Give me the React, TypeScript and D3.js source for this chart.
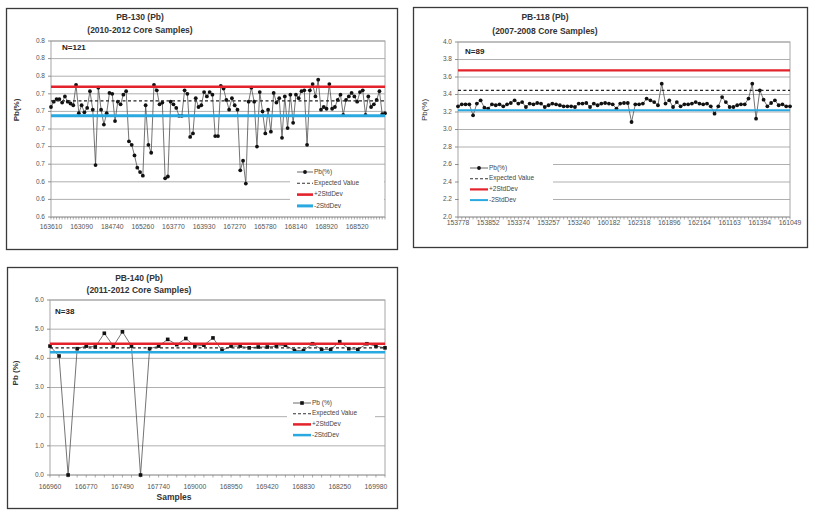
import React from "react";
import * as d3 from "d3";

// ---------- DATA ----------
const pb130Values = [
  0.725, 0.731, 0.734, 0.734, 0.730, 0.737, 0.731, 0.729, 0.727, 0.750,
  0.718, 0.727, 0.719, 0.724, 0.743, 0.722, 0.659, 0.747, 0.722, 0.705,
  0.718, 0.741, 0.740, 0.709, 0.731, 0.728, 0.739, 0.743, 0.686, 0.682,
  0.670, 0.656, 0.651, 0.647, 0.727, 0.682, 0.673, 0.750, 0.744, 0.728,
  0.730, 0.644, 0.646, 0.731, 0.728, 0.724, 0.715, 0.715, 0.744, 0.740,
  0.691, 0.695, 0.735, 0.725,
  0.727, 0.742, 0.737, 0.742, 0.739, 0.692, 0.692, 0.749, 0.746, 0.733,
  0.722, 0.735, 0.727, 0.722, 0.653, 0.664, 0.638, 0.731, 0.747, 0.731,
  0.680, 0.742, 0.720, 0.695, 0.722, 0.697, 0.741, 0.730, 0.735, 0.690,
  0.737, 0.701, 0.739, 0.707, 0.739, 0.735, 0.743, 0.744, 0.682, 0.744,
  0.751, 0.737, 0.756, 0.722, 0.725, 0.723, 0.751, 0.723, 0.725, 0.733,
  0.739, 0.716, 0.733, 0.737, 0.741, 0.737, 0.731, 0.742, 0.744, 0.716,
  0.737, 0.725, 0.728, 0.733, 0.743, 0.717, 0.718,
];
const pb130XLabels = ["163610", "163090", "184740", "165260", "163770", "163930", "167270", "165780", "168140", "168920", "168520"];
const pb130YTicks = [0.6, 0.62, 0.64, 0.66, 0.68, 0.7, 0.72, 0.74, 0.76, 0.78, 0.8];
const pb130YLabels = ["0.6", "0.6", "0.6", "0.7", "0.7", "0.7", "0.7", "0.7", "0.8", "0.8", "0.8"];
const pb130Stats = [0.732, 0.748, 0.715]; // expected, +2SD, -2SD

const pb118Values = [
  3.265, 3.288, 3.288, 3.288, 3.162, 3.296, 3.333, 3.25, 3.239, 3.288,
  3.277, 3.288, 3.265, 3.288, 3.303, 3.333, 3.296, 3.314, 3.257, 3.296,
  3.288, 3.303, 3.296, 3.257, 3.277, 3.296, 3.288, 3.277, 3.265, 3.265,
  3.265, 3.257, 3.296, 3.296, 3.303, 3.257, 3.296, 3.277, 3.296, 3.303,
  3.296, 3.288, 3.239, 3.296, 3.303, 3.303, 3.086, 3.288, 3.288, 3.296,
  3.353, 3.333, 3.314, 3.277, 3.524, 3.296, 3.333, 3.257, 3.314, 3.265,
  3.288, 3.288, 3.296, 3.314, 3.296, 3.288, 3.296, 3.265, 3.181, 3.265,
  3.371, 3.314, 3.257, 3.257, 3.277, 3.288, 3.288, 3.353, 3.524, 3.124,
  3.448, 3.341, 3.265, 3.303, 3.333, 3.277, 3.288, 3.265, 3.265,
];
const pb118XLabels = ["153778", "153852", "153374", "153257", "153240", "160182", "162318", "161896", "162164", "161163", "161394", "161049"];
const pb118YTicks = [2.0, 2.2, 2.4, 2.6, 2.8, 3.0, 3.2, 3.4, 3.6, 3.8, 4.0];
const pb118YLabels = ["2.0", "2.2", "2.4", "2.6", "2.8", "3.0", "3.2", "3.4", "3.6", "3.8", "4.0"];
const pb118Stats = [3.448, 3.676, 3.219];

const pb140Values = [
  4.42, 4.08, 0.0, 4.33, 4.42, 4.39, 4.86, 4.42, 4.91, 4.42,
  0.0, 4.33, 4.42, 4.65, 4.47, 4.68, 4.42, 4.45, 4.70, 4.27,
  4.42, 4.42, 4.36, 4.39, 4.39, 4.42, 4.45, 4.27, 4.27, 4.50,
  4.30, 4.30, 4.57, 4.33, 4.30, 4.50, 4.42, 4.36,
];
const pb140XLabels = ["166960", "166770", "167490", "167740", "169000", "168950", "169420", "168830", "168250", "169980"];
const pb140YTicks = [0, 1, 2, 3, 4, 5, 6];
const pb140YLabels = ["0.0", "1.0", "2.0", "3.0", "4.0", "5.0", "6.0"];
const pb140Stats = [4.36, 4.50, 4.21];

const legendLabels = ["Pb(%)", "Expected Value", "+2StdDev", "-2StdDev"];
const legendLabels140 = ["Pb (%)", "Expected Value", "+2StdDev", "-2StdDev"];

// ---------- STYLE ----------
const RED = "#e4222b";
const BLUE = "#2aa9e0";
const GRID = "#a6a6a6";
const FONT = "'Liberation Sans', Arial, sans-serif";

type Box = { x: number; y: number; w: number; h: number };

type ChartProps = {
  values: number[];
  xLabels: string[];
  labelEvery: number;
  yTicks: number[];
  yLabels: string[];
  stats: number[];
  frame: Box;
  plot: { x0: number; x1: number; y0: number; y1: number };
  title: string;
  subtitle: string;
  titleX: number;
  titleY: number;
  subY: number;
  nText: string;
  nPos: [number, number];
  yTitle: string;
  yTitlePos: [number, number];
  yTitleBold: boolean;
  xTitle?: string;
  xTitlePos?: [number, number];
  xLabelY: number;
  legend: { box: Box; lx: number; ly: number; rowH: number; len: number; labels: string[] };
  square?: boolean;
  redW: number;
  blueW: number;
};

function ControlChart(p: ChartProps) {
  const n = p.values.length;
  const x = d3.scaleLinear().domain([0, n - 1]).range([p.plot.x0, p.plot.x1]);
  const y = d3
    .scaleLinear()
    .domain([p.yTicks[0], p.yTicks[p.yTicks.length - 1]])
    .range([p.plot.y1, p.plot.y0]);
  const line = d3
    .line<number>()
    .x((_, i) => x(i))
    .y((d) => y(d));
  const [expv, plus, minus] = p.stats;
  const lg = p.legend;
  const idx = d3.range(n);
  const ms = 3.6;
  return (
    <g fontFamily={FONT}>
      <rect x={p.frame.x} y={p.frame.y} width={p.frame.w} height={p.frame.h} fill="#fff" stroke="#3a3a3a" strokeWidth={1.3} />
      <text x={p.titleX} y={p.titleY} textAnchor="middle" fontSize={8.5} fontWeight="bold" fill="#333" dominantBaseline="middle">
        {p.title}
      </text>
      <text x={p.titleX} y={p.subY} textAnchor="middle" fontSize={8.5} fontWeight="bold" fill="#333" dominantBaseline="middle">
        {p.subtitle}
      </text>
      {/* gridlines */}
      {p.yTicks.map((t, i) => (
        <line key={"g" + i} x1={p.plot.x0} x2={p.plot.x1} y1={y(t)} y2={y(t)} stroke={GRID} strokeWidth={0.9} />
      ))}
      <rect x={p.plot.x0} y={p.plot.y0} width={p.plot.x1 - p.plot.x0} height={p.plot.y1 - p.plot.y0} fill="none" stroke={GRID} strokeWidth={1} />
      {/* y ticks */}
      {p.yTicks.map((t, i) => (
        <g key={"yt" + i}>
          <line x1={p.plot.x0 - 3} x2={p.plot.x0} y1={y(t)} y2={y(t)} stroke="#777" strokeWidth={0.8} />
          <text x={p.plot.x0 - 6} y={y(t)} textAnchor="end" dominantBaseline="middle" fontSize={6.5} fill="#555">
            {p.yLabels[i]}
          </text>
        </g>
      ))}
      {/* x ticks */}
      {idx.map((i) => (
        <line key={"xt" + i} x1={x(i)} x2={x(i)} y1={p.plot.y1} y2={p.plot.y1 + 2.5} stroke="#777" strokeWidth={0.6} />
      ))}
      {p.xLabels.map((l, i) => (
        <text key={"xl" + i} x={x(i * p.labelEvery)} y={p.xLabelY} textAnchor="middle" dominantBaseline="middle" fontSize={6.8} fill="#555">
          {l}
        </text>
      ))}
      {/* data */}
      <path d={line(p.values) || ""} fill="none" stroke="#505050" strokeWidth={0.8} />
      {p.values.map((v, i) =>
        p.square ? (
          <rect key={"m" + i} x={x(i) - ms / 2} y={y(v) - ms / 2} width={ms} height={ms} fill="#111" />
        ) : (
          <circle key={"m" + i} cx={x(i)} cy={y(v)} r={1.9} fill="#111" />
        )
      )}
      {/* stat lines */}
      <line x1={p.plot.x0} x2={p.plot.x1} y1={y(expv)} y2={y(expv)} stroke="#222" strokeWidth={1.2} strokeDasharray="3,2.5" />
      <line x1={p.plot.x0} x2={p.plot.x1} y1={y(plus)} y2={y(plus)} stroke={RED} strokeWidth={p.redW} />
      <line x1={p.plot.x0} x2={p.plot.x1} y1={y(minus)} y2={y(minus)} stroke={BLUE} strokeWidth={p.blueW} />
      {/* N label */}
      <text x={p.nPos[0]} y={p.nPos[1]} dominantBaseline="middle" fontSize={8} fontWeight="bold" fill="#222">
        {p.nText}
      </text>
      {/* axis titles */}
      <text
        transform={`translate(${p.yTitlePos[0]},${p.yTitlePos[1]}) rotate(-90)`}
        textAnchor="middle"
        dominantBaseline="middle"
        fontSize={8}
        fontWeight={p.yTitleBold ? "bold" : "normal"}
        fill="#333"
      >
        {p.yTitle}
      </text>
      {p.xTitle && p.xTitlePos && (
        <text x={p.xTitlePos[0]} y={p.xTitlePos[1]} textAnchor="middle" dominantBaseline="middle" fontSize={8.5} fontWeight="bold" fill="#333">
          {p.xTitle}
        </text>
      )}
      {/* legend */}
      <rect x={lg.box.x} y={lg.box.y} width={lg.box.w} height={lg.box.h} fill="#fff" />
      {lg.labels.map((l, i) => {
        const yy = lg.ly + i * lg.rowH;
        const col = i === 2 ? RED : i === 3 ? BLUE : i === 1 ? "#333" : "#444";
        const w = i === 2 ? p.redW : i === 3 ? p.blueW : i === 1 ? 1.1 : 0.8;
        return (
          <g key={"lg" + i}>
            <line x1={lg.lx} x2={lg.lx + lg.len} y1={yy} y2={yy} stroke={col} strokeWidth={w} strokeDasharray={i === 1 ? "3,2" : undefined} />
            {i === 0 &&
              (p.square ? (
                <rect x={lg.lx + lg.len / 2 - ms / 2} y={yy - ms / 2} width={ms} height={ms} fill="#111" />
              ) : (
                <circle cx={lg.lx + lg.len / 2} cy={yy} r={1.9} fill="#111" />
              ))}
            <text x={lg.lx + lg.len + 1} y={yy} dominantBaseline="middle" fontSize={6.5} fill="#444">
              {l}
            </text>
          </g>
        );
      })}
    </g>
  );
}

export default function App() {
  return (
    <svg width={817} height={517} style={{ position: "absolute", left: 0, top: 0, background: "#fff" }}>
      <rect width={817} height={517} fill="#fff" />
      <ControlChart
        values={pb130Values}
        xLabels={pb130XLabels}
        labelEvery={11}
        yTicks={pb130YTicks}
        yLabels={pb130YLabels}
        stats={pb130Stats}
        frame={{ x: 6.5, y: 8.5, w: 391, h: 241 }}
        plot={{ x0: 51, x1: 385, y0: 41, y1: 217 }}
        title="PB-130 (Pb)"
        subtitle="(2010-2012 Core Samples)"
        titleX={140}
        titleY={18}
        subY={31}
        nText="N=121"
        nPos={[62, 48]}
        yTitle="Pb(%)"
        yTitlePos={[17, 110]}
        yTitleBold={true}
        xLabelY={227}
        legend={{ box: { x: 290, y: 166, w: 94, h: 47 }, lx: 297, ly: 172, rowH: 11.3, len: 16, labels: legendLabels }}
        redW={2.6}
        blueW={3}
      />
      <ControlChart
        values={pb118Values}
        xLabels={pb118XLabels}
        labelEvery={8}
        yTicks={pb118YTicks}
        yLabels={pb118YLabels}
        stats={pb118Stats}
        frame={{ x: 413.5, y: 7.5, w: 394, h: 240 }}
        plot={{ x0: 458, x1: 790, y0: 42, y1: 217 }}
        title="PB-118 (Pb)"
        subtitle="(2007-2008 Core Samples)"
        titleX={545}
        titleY={18}
        subY={32}
        nText="N=89"
        nPos={[465, 52]}
        yTitle="Pb(%)"
        yTitlePos={[425, 110]}
        yTitleBold={false}
        xLabelY={223}
        legend={{ box: { x: 459, y: 158, w: 94, h: 48 }, lx: 470, ly: 168, rowH: 10.7, len: 18, labels: legendLabels }}
        redW={2.2}
        blueW={2}
      />
      <ControlChart
        values={pb140Values}
        xLabels={pb140XLabels}
        labelEvery={4}
        yTicks={pb140YTicks}
        yLabels={pb140YLabels}
        stats={pb140Stats}
        frame={{ x: 7.5, y: 267.5, w: 390, h: 241 }}
        plot={{ x0: 50, x1: 385, y0: 300, y1: 475 }}
        title="PB-140 (Pb)"
        subtitle="(2011-2012 Core Samples)"
        titleX={139}
        titleY={279}
        subY={291}
        nText="N=38"
        nPos={[55, 312]}
        yTitle="Pb (%)"
        yTitlePos={[16, 373]}
        yTitleBold={true}
        xTitle="Samples"
        xTitlePos={[174, 498]}
        xLabelY={487}
        legend={{ box: { x: 287, y: 394, w: 88, h: 49 }, lx: 293, ly: 403, rowH: 10.7, len: 18, labels: legendLabels140 }}
        square={true}
        redW={2.5}
        blueW={2.5}
      />
    </svg>
  );
}
